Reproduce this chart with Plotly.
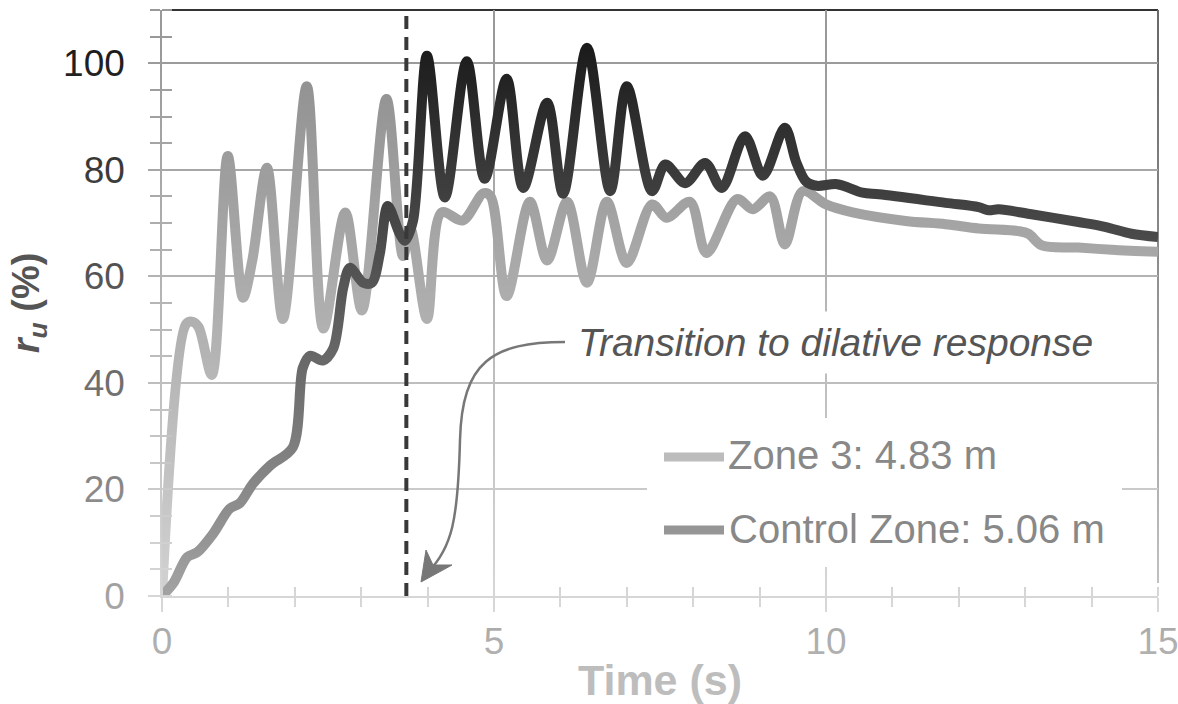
import base64
import struct
import zlib

import plotly.graph_objects as go

# Pore-pressure ratio records (time in s, r_u in %)
zone3_t = [0, 0.36, 0.45, 0.55, 0.75, 0.99, 1.22, 1.36, 1.58, 1.82, 2.18, 2.43,
           2.76, 3.01, 3.38, 3.63, 3.74, 3.99, 4.21, 4.53, 4.84, 4.95, 5.19, 5.54,
           5.80, 6.10, 6.40, 6.70, 7.00, 7.38, 7.60, 7.95, 8.20, 8.66, 8.90, 9.16,
           9.38, 9.65, 10.0, 10.4, 11.2, 11.8, 12.3, 12.9, 13.05, 13.25, 13.8,
           14.3, 15.0]
zone3_ru = [0, 51, 51.5, 50.5, 41.5, 82.6, 56, 63, 80.4, 52, 95.7, 50.2,
            72, 53.6, 93.3, 63.8, 69, 52, 72, 70.5, 75.6, 75, 56.3, 74,
            63, 74, 58.8, 74, 62.5, 73.5, 71, 74, 64.4, 74.5, 72.6, 75,
            66, 76, 73.5, 72, 70.4, 69.8, 69, 68.5, 68, 65.8, 65.4,
            65, 64.6]

control_t = [0, 0.17, 0.38, 0.53, 0.77, 1.02, 1.17, 1.37, 1.63, 1.97, 2.12,
             2.23, 2.42, 2.58, 2.73, 2.83, 3.03, 3.16, 3.28, 3.40, 3.58, 3.66,
             3.78, 3.99, 4.26, 4.59, 4.86, 5.19, 5.44, 5.80, 6.04, 6.40, 6.75,
             7.00, 7.38, 7.58, 7.88, 8.18, 8.43, 8.78, 9.05, 9.38, 9.55, 9.70,
             9.86, 10.17, 10.55, 10.8, 11.8, 12.3, 12.45, 12.6, 13.07, 13.8,
             14.2, 14.6, 15.0]
control_ru = [0, 2.4, 7.3, 8.2, 11.7, 16.4, 17.4, 21.1, 24.5, 27.9, 42.8,
              45.1, 44.2, 46.5, 57.9, 61.6, 58.8, 58.8, 64.2, 73.2, 68.0, 66.7,
              70.4, 101.4, 74.8, 100.4, 78.3, 97.1, 76.6, 92.6, 75.5, 102.9, 76,
              95.7, 76, 81, 77.5, 81.3, 76.6, 86.3, 78.9, 87.9, 81.5, 77.8,
              77, 77.3, 75.7, 75.4, 73.8, 73, 72.4, 72.6, 71.7, 70.2,
              69.3, 68, 67.4]

series_names = ["Zone 3: 4.83 m", "Control Zone: 5.06 m"]
y_ticks = [0, 20, 40, 60, 80, 100]
x_ticks = [0, 5, 10, 15]
transition_time = 3.68
transition_label = "Transition to dilative response"

# Page geometry
W, H = 1178, 704
M_L, M_R, M_T, M_B = 162, 20, 10, 108
X_RANGE = [0, 15]
Y_RANGE = [0, 110]
PLOT_W = W - M_L - M_R
PLOT_H = H - M_T - M_B
FONT = "Liberation Sans, Arial, sans-serif"
GRID = "#999999"


def to_x(px):
    return X_RANGE[0] + (px - M_L) / PLOT_W * (X_RANGE[1] - X_RANGE[0])


def to_y(py):
    return Y_RANGE[0] + (H - M_B - py) / PLOT_H * (Y_RANGE[1] - Y_RANGE[0])


def pt(px, py):
    return f"{to_x(px):.4f},{to_y(py):.4f}"


def fade_png(height):
    """1-px-wide white PNG whose opacity grows toward the bottom of the page."""
    rows = []
    for r in range(height):
        a = 0.6 * (r - 40) / 556
        a = min(max(a, 0.0), 0.72)
        rows.append(b"\x00" + bytes([255, 255, 255, int(round(a * 255))]))
    raw = b"".join(rows)

    def chunk(tag, data):
        return (struct.pack(">I", len(data)) + tag + data
                + struct.pack(">I", zlib.crc32(tag + data) & 0xFFFFFFFF))

    png = (b"\x89PNG\r\n\x1a\n"
           + chunk(b"IHDR", struct.pack(">IIBBBBB", 1, height, 8, 6, 0, 0, 0))
           + chunk(b"IDAT", zlib.compress(raw))
           + chunk(b"IEND", b""))
    return "data:image/png;base64," + base64.b64encode(png).decode()


fig = go.Figure()

fig.add_trace(go.Scatter(
    x=zone3_t, y=zone3_ru, mode="lines", name=series_names[0],
    line=dict(color="#8e8e8e", width=10, shape="spline", smoothing=0.9),
    showlegend=False, hoverinfo="x+y"))
fig.add_trace(go.Scatter(
    x=control_t, y=control_ru, mode="lines", name=series_names[1],
    line=dict(color="#1a1a1a", width=10, shape="spline", smoothing=0.9),
    showlegend=False, hoverinfo="x+y"))

# Empty trace carrying the overlay axes that draw the inner half of the minor ticks
fig.add_trace(go.Scatter(x=[None], y=[None], xaxis="x2", yaxis="y2",
                         showlegend=False, hoverinfo="skip"))

shapes = [
    # white panel behind the key
    dict(type="rect", layer="between", xref="x", yref="y",
         x0=to_x(647), x1=to_x(1122), y0=to_y(567), y1=to_y(418),
         fillcolor="white", line=dict(width=0)),
    # top frame line
    dict(type="line", layer="between", xref="paper", yref="paper",
         x0=10 / PLOT_W, x1=1, y0=1, y1=1, line=dict(color="#333333", width=2)),
    # right frame line
    dict(type="line", layer="between", xref="paper", yref="paper",
         x0=1, x1=1, y0=13 / PLOT_H, y1=1, line=dict(color="#6a6a6a", width=2)),
    # transition marker
    dict(type="line", layer="above", xref="x", yref="paper",
         x0=transition_time, x1=transition_time, y0=0, y1=1,
         line=dict(color="#383838", width=4, dash="13px,8px")),
    # curved pointer from the label down to the marker
    dict(type="path", layer="above", xref="x", yref="y",
         path=(f"M {pt(565, 342)} C {pt(492, 342)} {pt(462, 362)} {pt(460, 440)}"
               f" C {pt(458, 520)} {pt(452, 548)} {pt(428, 572)}"),
         line=dict(color="#777777", width=2.5)),
    dict(type="path", layer="above", xref="x", yref="y",
         path=f"M {pt(421, 582)} L {pt(426, 550)} L {pt(433, 565)} L {pt(452, 565)} Z",
         fillcolor="#777777", line=dict(color="#777777", width=1)),
    # key samples
    dict(type="line", layer="above", xref="x", yref="y",
         x0=to_x(664), x1=to_x(724), y0=to_y(457), y1=to_y(457),
         line=dict(color="#bcbcbc", width=9)),
    dict(type="line", layer="above", xref="x", yref="y",
         x0=to_x(664), x1=to_x(724), y0=to_y(530), y1=to_y(530),
         line=dict(color="#969696", width=9)),
]

annotations = [
    dict(text=f"<i>{transition_label}</i>", xref="x", yref="y",
         x=to_x(568), y=to_y(342), xanchor="left", yanchor="middle",
         showarrow=False, bgcolor="white", borderpad=9,
         font=dict(family=FONT, size=39, color="#555555")),
    dict(text=series_names[0], xref="x", yref="y",
         x=to_x(726), y=to_y(455), xanchor="left", yanchor="middle",
         showarrow=False, font=dict(family=FONT, size=40, color="#888888")),
    dict(text=series_names[1], xref="x", yref="y",
         x=to_x(727), y=to_y(529), xanchor="left", yanchor="middle",
         showarrow=False, font=dict(family=FONT, size=40, color="#888888")),
]

images = [dict(
    source=fade_png(H), xref="paper", yref="paper",
    x=-M_L / PLOT_W, y=1 + M_T / PLOT_H, sizex=W / PLOT_W, sizey=H / PLOT_H,
    xanchor="left", yanchor="top", sizing="stretch", layer="above")]

fig.update_layout(
    width=W, height=H,
    margin=dict(l=M_L, r=M_R, t=M_T, b=M_B, autoexpand=False),
    paper_bgcolor="white", plot_bgcolor="white",
    font=dict(family=FONT, color="#1a1a1a"),
    shapes=shapes, annotations=annotations, images=images,
    xaxis=dict(
        range=X_RANGE, tickvals=x_ticks, ticktext=[str(v) for v in x_ticks],
        showgrid=True, gridcolor=GRID, gridwidth=1.5,
        showline=True, linecolor=GRID, linewidth=1.5,
        ticks="outside", ticklen=14, tickwidth=1.5, tickcolor=GRID,
        minor=dict(dtick=1, ticks="outside", ticklen=9, tickwidth=1.5,
                   tickcolor=GRID, showgrid=False),
        tickfont=dict(family=FONT, size=37, color="#1a1a1a"),
        ticklabelstandoff=-2, ticklabeloverflow="allow",
        title=dict(text="<b>Time (s)</b>", standoff=13,
                   font=dict(family=FONT, size=43, color="#bdbdbd")),
        zeroline=False, fixedrange=True),
    yaxis=dict(
        range=Y_RANGE, tickvals=y_ticks, ticktext=[str(v) for v in y_ticks],
        showgrid=True, gridcolor=GRID, gridwidth=1.5,
        showline=True, linecolor=GRID, linewidth=1.5,
        ticks="outside", ticklen=12, tickwidth=1.5, tickcolor=GRID,
        minor=dict(dtick=5, ticks="outside", ticklen=10, tickwidth=1.5,
                   tickcolor=GRID, showgrid=False),
        tickfont=dict(family=FONT, size=37, color="#1a1a1a"),
        ticklabelstandoff=16, ticklabeloverflow="allow",
        title=dict(text="<b><i>r</i><sub><i>u</i></sub> (%)</b>", standoff=12,
                   font=dict(family=FONT, size=38, color="#555555")),
        zeroline=False, fixedrange=True),
    xaxis2=dict(
        overlaying="x", anchor="y2", side="bottom", range=X_RANGE,
        showgrid=False, showline=False, showticklabels=False, ticks="",
        tickvals=x_ticks,
        minor=dict(dtick=1, ticks="inside", ticklen=9, tickwidth=1.5,
                   tickcolor=GRID, showgrid=False),
        zeroline=False, fixedrange=True),
    yaxis2=dict(
        overlaying="y", anchor="x2", side="left", range=Y_RANGE,
        showgrid=False, showline=False, showticklabels=False, ticks="",
        tickvals=y_ticks,
        minor=dict(dtick=5, ticks="inside", ticklen=10, tickwidth=1.5,
                   tickcolor=GRID, showgrid=False),
        zeroline=False, fixedrange=True),
)

fig.write_html("out.html")
